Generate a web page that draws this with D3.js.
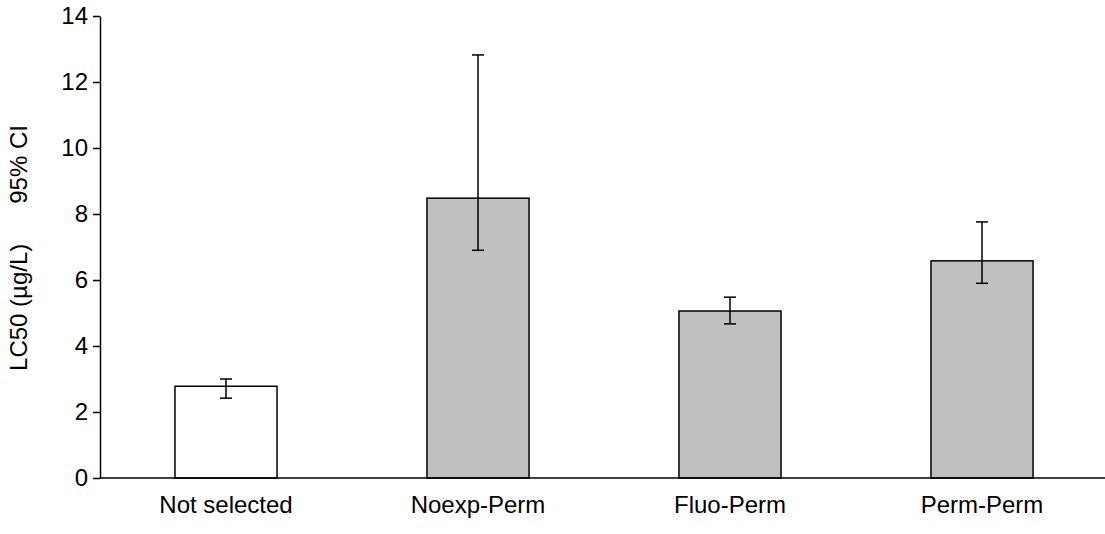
<!DOCTYPE html>
<html><head><meta charset="utf-8">
<script src="https://cdn.jsdelivr.net/npm/d3@7"></script>
<style>body{margin:0;background:#fff}svg{display:block}text{font-family:"Liberation Sans",Arial,sans-serif}</style>
</head><body>
<svg id="c" width="1105" height="534"></svg>
<script>
const categories = ["Not selected", "Noexp-Perm", "Fluo-Perm", "Perm-Perm"];
const values = [2.78, 8.48, 5.06, 6.58];
const lower = [2.42, 6.9, 4.67, 5.9];
const upper = [3.0, 12.82, 5.48, 7.76];
const fills = ["#ffffff", "#c0c0c0", "#c0c0c0", "#c0c0c0"];
const yTicks = [0, 2, 4, 6, 8, 10, 12, 14];

const FS = 24;
const svg = d3.select("#c");
const x0 = 100, y0 = 478, yTop = 16;
const x = d3.scaleBand().domain(categories).range([x0, x0 + 4 * 252]).paddingInner(0.595).paddingOuter(0.2975);
const y = d3.scaleLinear().domain([0, 14]).range([y0, yTop]);

const data = categories.map((c, i) => ({c, v: values[i], lo: lower[i], hi: upper[i], f: fills[i]}));

svg.selectAll("rect.bar").data(data).enter().append("rect")
  .attr("x", d => x(d.c)).attr("y", d => y(d.v))
  .attr("width", x.bandwidth()).attr("height", d => y(0) - y(d.v))
  .attr("fill", d => d.f).attr("stroke", "#000").attr("stroke-width", 1.5);

const eb = svg.selectAll("g.eb").data(data).enter().append("g")
  .attr("stroke", "#000").attr("stroke-width", 1.5);
const cx = d => x(d.c) + x.bandwidth() / 2;
eb.append("line").attr("x1", cx).attr("x2", cx)
  .attr("y1", d => y(d.lo)).attr("y2", d => y(d.hi));
eb.append("line").attr("x1", d => cx(d) - 6).attr("x2", d => cx(d) + 6)
  .attr("y1", d => y(d.lo)).attr("y2", d => y(d.lo));
eb.append("line").attr("x1", d => cx(d) - 6).attr("x2", d => cx(d) + 6)
  .attr("y1", d => y(d.hi)).attr("y2", d => y(d.hi));

// Y axis
const ya = svg.append("g").attr("transform", `translate(${x0},0)`)
  .call(d3.axisLeft(y).tickValues(yTicks).tickSize(7).tickPadding(5).tickSizeOuter(0));
ya.attr("font-size", FS).attr("font-family", "'Liberation Sans', Arial, sans-serif");
ya.select(".domain").attr("stroke", "#000").attr("stroke-width", 1.5);
ya.selectAll(".tick line").attr("stroke", "#000").attr("stroke-width", 1.5);
ya.selectAll("text").attr("fill", "#000");

// X axis
const xa = svg.append("g").attr("transform", `translate(0,${y0})`)
  .call(d3.axisBottom(x).tickSize(0).tickPadding(18));
xa.attr("font-size", FS).attr("font-family", "'Liberation Sans', Arial, sans-serif");
xa.select(".domain").attr("d", `M${x0},0H1105`).attr("stroke", "#000").attr("stroke-width", 1.5);
xa.selectAll("text").attr("fill", "#000");

svg.append("text").attr("transform", "translate(27,248) rotate(-90)")
  .attr("text-anchor", "middle").attr("font-size", FS).attr("fill", "#000")
  .style("white-space", "pre").attr("xml:space", "preserve")
  .text("LC50 (µg/L)      95% CI");
</script>
</body></html>
